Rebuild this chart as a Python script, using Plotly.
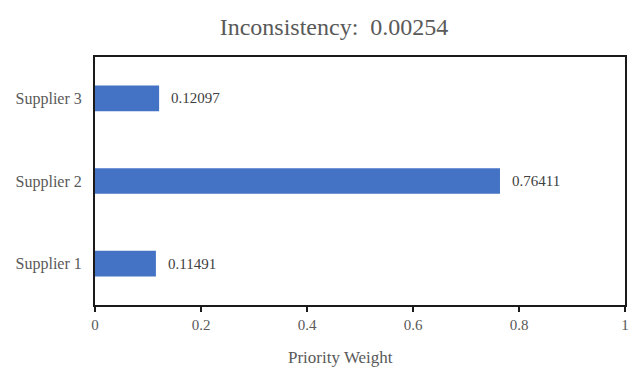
import plotly.graph_objects as go

categories = ["Supplier 1", "Supplier 2", "Supplier 3"]
weights = [0.11491, 0.76411, 0.12097]
labels = ["0.11491", "0.76411", "0.12097"]
x_ticks = [0, 0.2, 0.4, 0.6, 0.8, 1]
x_tick_text = ["0", "0.2", "0.4", "0.6", "0.8", "1"]
title_text = "Inconsistency:\u00a0\u00a00.00254"
x_title = "Priority Weight"

FONT = "'Liberation Serif', 'Times New Roman', serif"

fig = go.Figure()
fig.add_trace(go.Bar(
    x=weights, y=categories, orientation="h",
    marker=dict(color="#4472C4", line=dict(width=0)),
    width=0.31,
    hoverinfo="skip",
))

for c, v, t in zip(categories, weights, labels):
    fig.add_annotation(x=v, y=c, text=t, xanchor="left", yanchor="middle",
                       xshift=10, showarrow=False,
                       font=dict(family=FONT, size=15, color="#404040"))

fig.add_annotation(x=(340-95)/530, y=(305-357)/248, xref="paper", yref="paper",
                   text=x_title, showarrow=False, xanchor="center", yanchor="middle",
                   font=dict(family=FONT, size=17, color="#595959"))

fig.update_layout(
    width=630, height=368,
    margin=dict(l=95, r=5, t=57, b=63, autoexpand=False),
    paper_bgcolor="white", plot_bgcolor="white",
    showlegend=False,
    font=dict(family=FONT),
    title=dict(text=title_text, x=334/630, xanchor="center", y=1-27/368, yanchor="middle",
               font=dict(family=FONT, size=24, color="#595959")),
    xaxis=dict(range=[0, 1], tickvals=x_ticks, ticktext=x_tick_text,
               showgrid=False, zeroline=False, automargin=False,
               showline=True, linecolor="#1a1a1a", linewidth=2, mirror=True,
               ticks="outside", ticklen=5, tickwidth=2, tickcolor="#1a1a1a",
               tickfont=dict(family=FONT, size=15, color="#595959"),
               fixedrange=True),
    yaxis=dict(range=[-0.5, 2.5], showgrid=False, zeroline=False, automargin=False,
               showline=True, linecolor="#1a1a1a", linewidth=2, mirror=True,
               ticks="", ticklabelstandoff=8,
               tickfont=dict(family=FONT, size=16, color="#595959"),
               fixedrange=True),
)

fig.write_html("out.html", config={"displayModeBar": False},
               post_script="document.body.style.margin='0';document.body.style.padding='0';")
